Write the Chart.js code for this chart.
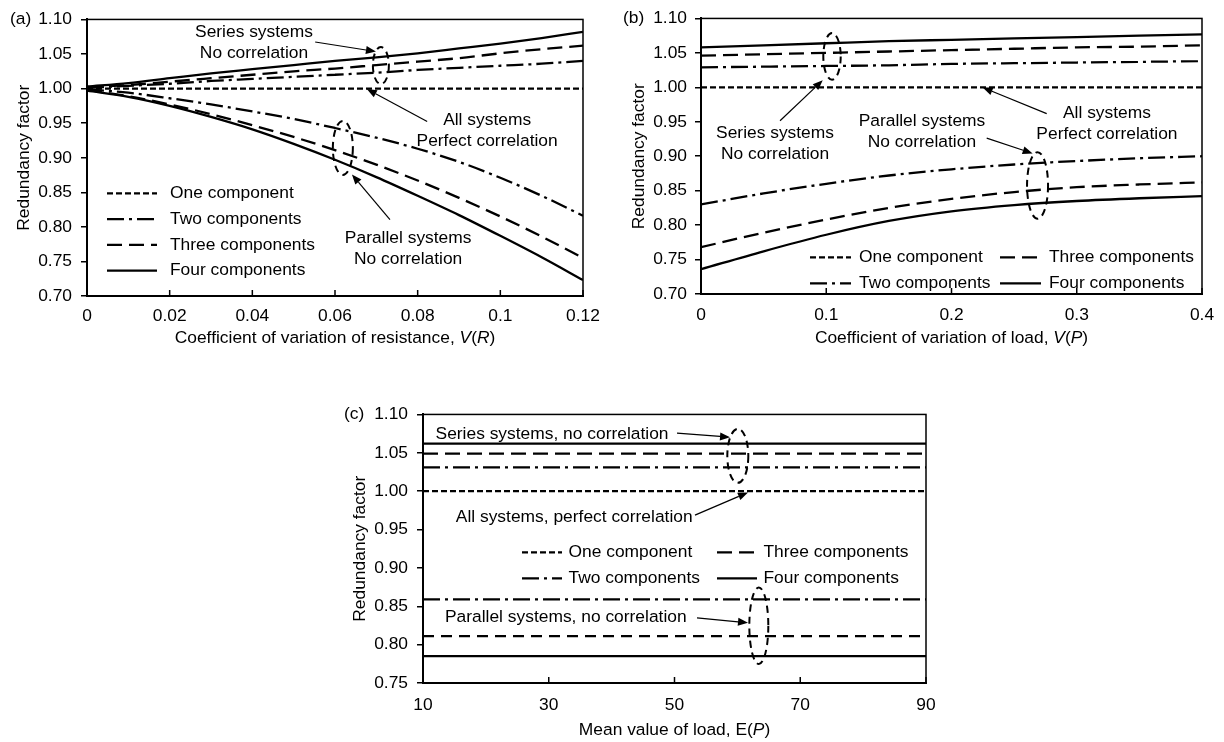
<!DOCTYPE html>
<html lang="en">
<head>
<meta charset="UTF-8">
<title>Redundancy factor</title>
<script src="https://cdn.jsdelivr.net/npm/chart.js@4.4.0/dist/chart.umd.min.js"></script>
<style>
  body { margin: 0; background: #fff; }
  canvas { position: absolute; }
</style>
</head>
<body>
<canvas id="chartA" width="600" height="355" style="left:0;top:0"></canvas>
<canvas id="chartB" width="624" height="355" style="left:600px;top:0"></canvas>
<canvas id="chartC" width="600" height="347" style="left:340px;top:395px"></canvas>
<script>
// (a) redundancy factor against V(R)
const vResist = [0, 0.01, 0.02, 0.03, 0.04, 0.05, 0.06, 0.07, 0.08, 0.09, 0.10, 0.11, 0.12];
const resSeriesFour  = [1.003, 1.008, 1.015, 1.022, 1.028, 1.034, 1.040, 1.045, 1.051, 1.058, 1.065, 1.073, 1.082];
const resSeriesThree = [1.002, 1.005, 1.010, 1.015, 1.020, 1.025, 1.029, 1.034, 1.039, 1.044, 1.051, 1.057, 1.062];
const resSeriesTwo   = [1.001, 1.004, 1.007, 1.011, 1.014, 1.017, 1.020, 1.023, 1.027, 1.030, 1.033, 1.036, 1.040];
const resOne         = [1.000, 1.000, 1.000, 1.000, 1.000, 1.000, 1.000, 1.000, 1.000, 1.000, 1.000, 1.000, 1.000];
const resParTwo      = [0.999, 0.994, 0.986, 0.977, 0.967, 0.956, 0.943, 0.929, 0.913, 0.894, 0.871, 0.845, 0.816];
const resParThree    = [0.998, 0.989, 0.977, 0.963, 0.947, 0.930, 0.911, 0.890, 0.867, 0.842, 0.815, 0.786, 0.755];
const resParFour     = [0.997, 0.988, 0.975, 0.959, 0.941, 0.920, 0.897, 0.872, 0.845, 0.817, 0.787, 0.756, 0.723];

// (b) redundancy factor against V(P)
const vLoad = [0, 0.05, 0.10, 0.15, 0.20, 0.25, 0.30, 0.35, 0.40];
const loadSeriesFour  = [1.058, 1.061, 1.064, 1.067, 1.069, 1.071, 1.073, 1.075, 1.077];
const loadSeriesThree = [1.046, 1.048, 1.050, 1.052, 1.054, 1.056, 1.058, 1.059, 1.061];
const loadSeriesTwo   = [1.029, 1.030, 1.031, 1.032, 1.034, 1.035, 1.036, 1.037, 1.038];
const loadOne         = [1.000, 1.000, 1.000, 1.000, 1.000, 1.000, 1.000, 1.000, 1.000];
const loadParTwo      = [0.830, 0.846, 0.860, 0.872, 0.881, 0.888, 0.893, 0.897, 0.900];
const loadParThree    = [0.768, 0.789, 0.808, 0.825, 0.838, 0.848, 0.855, 0.859, 0.862];
const loadParFour     = [0.736, 0.762, 0.786, 0.806, 0.820, 0.829, 0.835, 0.839, 0.842];

// (c) redundancy factor against E(P)
const meanLoad = [10, 30, 50, 70, 90];
const meanSeriesFour  = [1.062, 1.062, 1.062, 1.062, 1.062];
const meanSeriesThree = [1.049, 1.049, 1.049, 1.049, 1.049];
const meanSeriesTwo   = [1.031, 1.031, 1.031, 1.031, 1.031];
const meanOne         = [1.000, 1.000, 1.000, 1.000, 1.000];
const meanParTwo      = [0.859, 0.859, 0.859, 0.859, 0.859];
const meanParThree    = [0.811, 0.811, 0.811, 0.811, 0.811];
const meanParFour     = [0.785, 0.785, 0.785, 0.785, 0.785];

// tick values
const ticksVResist = [0, 0.02, 0.04, 0.06, 0.08, 0.10, 0.12];
const ticksVLoad   = [0, 0.1, 0.2, 0.3, 0.4];
const ticksMean    = [10, 30, 50, 70, 90];
const ticksRfAB    = [0.70, 0.75, 0.80, 0.85, 0.90, 0.95, 1.00, 1.05, 1.10];
const ticksRfC     = [0.75, 0.80, 0.85, 0.90, 0.95, 1.00, 1.05, 1.10];

const family = '"Liberation Sans", Arial, sans-serif';
const fontSize = 17.4;
const lineGap = 21;

const dashes = {
  'One component':    [6, 3],
  'Two components':   [17, 5, 3, 5],
  'Three components': [15, 7],
  'Four components':  []
};

function series(label, xs, ys, dash) {
  return {
    label,
    data: xs.map((x, i) => ({ x, y: ys[i] })),
    borderColor: '#000',
    borderWidth: 2.3,
    borderDash: dash || dashes[label],
    borderCapStyle: 'butt',
    pointRadius: 0,
    cubicInterpolationMode: 'monotone',
    fill: false
  };
}

function drawArrow(ctx, x1, y1, x2, y2) {
  const ang = Math.atan2(y2 - y1, x2 - x1), len = 10, half = 4;
  const bx = x2 - len * Math.cos(ang), by = y2 - len * Math.sin(ang);
  ctx.beginPath(); ctx.moveTo(x1, y1); ctx.lineTo(bx, by); ctx.stroke();
  ctx.beginPath();
  ctx.moveTo(x2, y2);
  ctx.lineTo(bx + half * Math.sin(ang), by - half * Math.cos(ang));
  ctx.lineTo(bx - half * Math.sin(ang), by + half * Math.cos(ang));
  ctx.closePath(); ctx.fill();
}

// frame, inner ticks, titles, legend and callouts
const decor = {
  id: 'decor',
  afterDraw(chart, args, o) {
    const { ctx, chartArea: a, scales: { x, y } } = chart;
    const font = style => `${style ? style + ' ' : ''}${fontSize}px ${family}`;
    ctx.save();
    ctx.strokeStyle = '#000';
    ctx.fillStyle = '#000';

    // box
    ctx.lineWidth = 1.5;
    ctx.strokeRect(a.left, a.top, a.right - a.left, a.bottom - a.top);
    ctx.lineWidth = 2;
    ctx.beginPath();
    ctx.moveTo(a.left, a.top); ctx.lineTo(a.left, a.bottom); ctx.lineTo(a.right, a.bottom);
    ctx.stroke();

    // x tick marks point into the plot
    ctx.lineWidth = 1.5;
    x.ticks.forEach(t => {
      const px = x.getPixelForValue(t.value);
      ctx.beginPath(); ctx.moveTo(px, a.bottom); ctx.lineTo(px, a.bottom - 6); ctx.stroke();
    });

    // panel letter
    ctx.font = font();
    ctx.textBaseline = 'middle';
    ctx.textAlign = 'left';
    ctx.fillText(o.panel, o.panelX, a.top);

    // y title
    ctx.save();
    ctx.translate(o.yTitleX, (a.top + a.bottom) / 2);
    ctx.rotate(-Math.PI / 2);
    ctx.textAlign = 'center';
    ctx.fillText(o.yTitle, 0, 0);
    ctx.restore();

    // x title with italic symbols
    const parts = o.xTitle.map(([t, s]) => { ctx.font = font(s); return { t, s, w: ctx.measureText(t).width }; });
    let cx = (a.left + a.right) / 2 - parts.reduce((s, p) => s + p.w, 0) / 2;
    parts.forEach(p => { ctx.font = font(p.s); ctx.fillText(p.t, cx, o.xTitleY); cx += p.w; });

    // legend
    ctx.font = font();
    o.legend.items.forEach(([label, dx, dy]) => {
      const ds = chart.data.datasets.find(d => d.label === label);
      const lx = a.left + dx, ly = a.top + dy;
      ctx.save();
      ctx.lineWidth = ds.borderWidth;
      ctx.setLineDash(ds.borderDash);
      ctx.beginPath(); ctx.moveTo(lx, ly); ctx.lineTo(lx + o.legend.len, ly); ctx.stroke();
      ctx.restore();
      ctx.fillText(label, lx + o.legend.len + o.legend.gap, ly);
    });

    // callouts
    o.notes.forEach(n => {
      if (n.text) {
        ctx.font = font();
        ctx.textAlign = 'center';
        const px = x.getPixelForValue(n.at[0]), py = y.getPixelForValue(n.at[1]);
        n.text.forEach((line, i) => ctx.fillText(line, px, py + i * lineGap));
        ctx.textAlign = 'left';
      } else if (n.arrow) {
        ctx.lineWidth = 1.2;
        const [[x1, y1], [x2, y2]] = n.arrow;
        drawArrow(ctx, x.getPixelForValue(x1), y.getPixelForValue(y1), x.getPixelForValue(x2), y.getPixelForValue(y2));
      } else if (n.ellipse) {
        ctx.save();
        ctx.lineWidth = 2;
        ctx.setLineDash([7, 5]);
        ctx.beginPath();
        ctx.ellipse(x.getPixelForValue(n.ellipse[0]), y.getPixelForValue(n.ellipse[1]), n.rx, n.ry, 0, 0, Math.PI * 2);
        ctx.stroke();
        ctx.restore();
      }
    });
    ctx.restore();
  }
};

function panel(id, datasets, o) {
  const tickFont = { family, size: fontSize };
  // x labels are pushed down through the line height, so the scale does not
  // reserve extra room at the right end for tick padding
  const xTickFont = { family, size: fontSize, lineHeight: 2 * o.xLabelOffset / fontSize };
  return new Chart(document.getElementById(id), {
    type: 'line',
    data: { datasets },
    options: {
      responsive: false,
      animation: false,
      devicePixelRatio: 1,
      layout: { padding: o.padding },
      plugins: { legend: { display: false }, tooltip: { enabled: false }, decor: o.decor },
      scales: {
        x: {
          type: 'linear',
          min: o.xTicks[0],
          max: o.xTicks[o.xTicks.length - 1],
          afterBuildTicks: s => { s.ticks = o.xTicks.map(value => ({ value })); },
          afterFit: s => { s.height = o.xHeight; },
          grid: { display: true, drawOnChartArea: false, drawTicks: false },
          border: { display: true, color: '#000', width: 2 },
          ticks: { color: '#000', font: xTickFont, padding: 0, maxRotation: 0, autoSkip: false,
                   callback: v => String(+v.toFixed(2)) }
        },
        y: {
          type: 'linear',
          min: o.yTicks[0],
          max: o.yTicks[o.yTicks.length - 1],
          afterBuildTicks: s => { s.ticks = o.yTicks.map(value => ({ value })); },
          afterFit: s => { s.width = o.yWidth; },
          grid: { display: true, drawOnChartArea: false, drawTicks: true, tickLength: 6, color: '#000', lineWidth: 1.5 },
          border: { display: true, color: '#000', width: 2 },
          ticks: { color: '#000', font: tickFont, padding: o.yPad, callback: v => v.toFixed(2) }
        }
      }
    },
    plugins: [decor]
  });
}

const legendRows4 = ['One component', 'Two components', 'Three components', 'Four components'];

panel('chartA', [
  series('One component', vResist, resOne),
  series('Two components', vResist, resSeriesTwo),
  series('Three components', vResist, resSeriesThree),
  series('Four components', vResist, resSeriesFour),
  series('Two components', vResist, resParTwo),
  series('Three components', vResist, resParThree),
  series('Four components', vResist, resParFour)
], {
  padding: { top: 14, right: 17, left: 0, bottom: 0 },
  xTicks: ticksVResist, yTicks: ticksRfAB,
  xHeight: 59, yWidth: 87, xLabelOffset: 20.7, yPad: 9,
  decor: {
    panel: '(a)', panelX: 10, yTitle: 'Redundancy factor', yTitleX: 24,
    xTitle: [['Coefficient of variation of resistance, ', ''], ['V', 'italic'], ['(', ''], ['R', 'italic'], [')', '']],
    xTitleY: 338,
    legend: { len: 50, gap: 13, items: legendRows4.map((l, i) => [l, 20, 174 + i * 25.7]) },
    notes: [
      { text: ['Series systems', 'No correlation'], at: [0.0404, 1.0816] },
      { arrow: [[0.0552, 1.0674], [0.0699, 1.0536]] },
      { ellipse: [0.0711, 1.0333], rx: 8, ry: 18.5 },
      { text: ['All systems', 'Perfect correlation'], at: [0.0968, 0.9539] },
      { arrow: [[0.0823, 0.9525], [0.0677, 0.9993]] },
      { ellipse: [0.0619, 0.9142], rx: 10, ry: 27 },
      { text: ['Parallel systems', 'No correlation'], at: [0.0777, 0.7837] },
      { arrow: [[0.0733, 0.8106], [0.0641, 0.8759]] }
    ]
  }
});

panel('chartB', [
  series('One component', vLoad, loadOne),
  series('Two components', vLoad, loadSeriesTwo),
  series('Three components', vLoad, loadSeriesThree),
  series('Four components', vLoad, loadSeriesFour),
  series('Two components', vLoad, loadParTwo),
  series('Three components', vLoad, loadParThree),
  series('Four components', vLoad, loadParFour)
], {
  padding: { top: 13, right: 22, left: 0, bottom: 0 },
  xTicks: ticksVLoad, yTicks: ticksRfAB,
  xHeight: 61, yWidth: 101, xLabelOffset: 21, yPad: 8,
  decor: {
    panel: '(b)', panelX: 23, yTitle: 'Redundancy factor', yTitleX: 39,
    xTitle: [['Coefficient of variation of load, ', ''], ['V', 'italic'], ['(', ''], ['P', 'italic'], [')', '']],
    xTitleY: 338,
    legend: { len: 41, gap: 8, items: [
      ['One component', 109, 239], ['Two components', 109, 265],
      ['Three components', 299, 239], ['Four components', 299, 265]
    ] },
    notes: [
      { ellipse: [0.1046, 1.0449], rx: 8.7, ry: 23.3 },
      { text: ['Series systems', 'No correlation'], at: [0.0591, 0.9335] },
      { arrow: [[0.0631, 0.9515], [0.0972, 1.0103]] },
      { text: ['All systems', 'Perfect correlation'], at: [0.3241, 0.9619] },
      { arrow: [[0.2760, 0.9619], [0.2249, 0.9999]] },
      { text: ['Parallel systems', 'No correlation'], at: [0.1764, 0.9505] },
      { arrow: [[0.2281, 0.9263], [0.2648, 0.9040]] },
      { ellipse: [0.2687, 0.8576], rx: 10.5, ry: 33.3 }
    ]
  }
});

panel('chartC', [
  series('One component', meanLoad, meanOne),
  series('Two components', meanLoad, meanSeriesTwo),
  series('Three components', meanLoad, meanSeriesThree),
  series('Four components', meanLoad, meanSeriesFour),
  series('Two components', meanLoad, meanParTwo),
  series('Three components', meanLoad, meanParThree, [11, 7]),
  series('Four components', meanLoad, meanParFour)
], {
  padding: { top: 16, right: 14, left: 0, bottom: 0 },
  xTicks: ticksMean, yTicks: ticksRfC,
  xHeight: 59, yWidth: 83, xLabelOffset: 22, yPad: 9,
  decor: {
    panel: '(c)', panelX: 4, yTitle: 'Redundancy factor', yTitleX: 20,
    xTitle: [['Mean value of load, E(', ''], ['P', 'italic'], [')', '']],
    xTitleY: 335,
    legend: { len: 40, gap: 6.5, items: [
      ['One component', 99, 138], ['Two components', 99, 164],
      ['Three components', 294, 138], ['Four components', 294, 164]
    ] },
    notes: [
      { text: ['Series systems, no correlation'], at: [30.52, 1.0743] },
      { arrow: [[50.40, 1.0756], [58.83, 1.0704]] },
      { ellipse: [60.07, 1.046], rx: 10.5, ry: 27 },
      { text: ['All systems, perfect correlation'], at: [34.05, 0.9662] },
      { arrow: [[53.26, 0.9688], [61.69, 0.9983]] },
      { text: ['Parallel systems, no correlation'], at: [32.71, 0.8353] },
      { arrow: [[53.58, 0.8349], [61.69, 0.8285]] },
      { ellipse: [63.41, 0.8246], rx: 9.5, ry: 38.3 }
    ]
  }
});
</script>
</body>
</html>
